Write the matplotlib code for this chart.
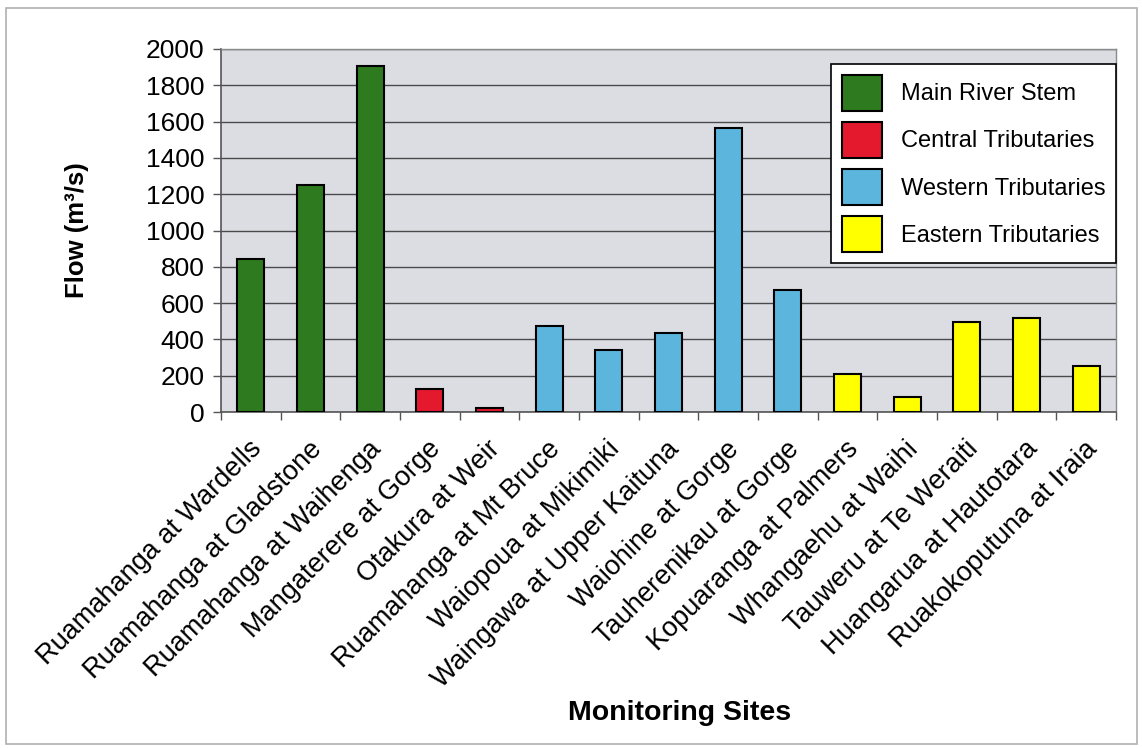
import matplotlib
matplotlib.use("Agg")
import matplotlib.pyplot as plt
import matplotlib.transforms as mtransforms
from matplotlib.patches import Patch, Rectangle
import numpy as np

plt.rcParams['font.family'] = ['Liberation Sans', 'DejaVu Sans']

# flow at each monitoring site (m3/s)
sites = ["Ruamahanga at Wardells", "Ruamahanga at Gladstone", "Ruamahanga at Waihenga",
         "Mangaterere at Gorge", "Otakura at Weir", "Ruamahanga at Mt Bruce",
         "Waiopoua at Mikimiki", "Waingawa at Upper Kaituna", "Waiohine at Gorge",
         "Tauherenikau at Gorge", "Kopuaranga at Palmers", "Whangaehu at Waihi",
         "Tauweru at Te Weraiti", "Huangarua at Hautotara", "Ruakokoputuna at Iraia"]
flows = [843, 1252, 1907, 125, 22, 474, 340, 433, 1562, 670, 211, 84, 496, 518, 252]
groups = [0, 0, 0, 1, 1, 2, 2, 2, 2, 2, 3, 3, 3, 3, 3]

group_names = ["Main River Stem", "Central Tributaries", "Western Tributaries", "Eastern Tributaries"]
group_colors = ["#2e7b1f", "#e5192d", "#5bb5dc", "#ffff00"]

fig = plt.figure(figsize=(11.42, 7.48), dpi=100)
fig.patch.set_facecolor("white")
# thin frame round the whole chart
fig.patches.append(Rectangle((6/1142, 4/748), 1131/1142, 736/748, transform=fig.transFigure,
                             fill=False, edgecolor="#b0b0b0", linewidth=1.2))

ax = fig.add_axes([221/1142, 1 - 412/748, 895/1142, 363/748])
ax.set_facecolor("#dcdde3")

x = np.arange(len(sites))
ax.bar(x, flows, width=0.45, color=[group_colors[g] for g in groups],
       edgecolor="black", linewidth=1.5, zorder=3)

ax.set_xlim(-0.5, len(sites) - 0.5)
ax.set_ylim(0, 2000)
ax.set_yticks(np.arange(0, 2001, 200))
ax.yaxis.grid(True, color="#4a4a4a", linewidth=1.0, zorder=1)
ax.set_axisbelow(True)

# category names, slanted, hung just under each bar
ax.set_xticks(x)
ax.set_xticklabels([])
ax.tick_params(axis="x", which="major", length=0)
shift = mtransforms.ScaledTranslation(-2/100, -24/100, fig.dpi_scale_trans)
for xi, name in zip(x, sites):
    ax.text(xi, 0, name, transform=ax.get_xaxis_transform() + shift,
            rotation=45, rotation_mode="anchor", ha="right", va="top", fontsize=19.5)

ax.set_xticks(np.arange(-0.5, len(sites), 1), minor=True)
ax.tick_params(axis="x", which="minor", length=6, width=1, color="#555555", direction="out")
ax.tick_params(axis="y", length=6, width=1, color="#555555", labelsize=19, pad=6)

for side in ["left", "bottom"]:
    ax.spines[side].set_color("#555555")
    ax.spines[side].set_linewidth(1.2)
for side in ["top", "right"]:
    ax.spines[side].set_color("#8a8a8a")
    ax.spines[side].set_linewidth(1.0)

ax.set_ylabel("Flow (m³/s)", fontsize=18.5, fontweight="bold", labelpad=41)
fig.text(680/1142, 1 - 713/748, "Monitoring Sites", fontsize=20.5, fontweight="bold",
         ha="center", va="center")

handles = [Patch(facecolor=c, edgecolor="black", linewidth=1.5) for c in group_colors]
leg = fig.legend(handles, group_names, loc="upper right",
                 bbox_to_anchor=(1116/1142, 1 - 64/748), fontsize=17,
                 frameon=True, fancybox=False, shadow=False, borderaxespad=0,
                 handlelength=1.7, handleheight=2.0, labelspacing=0.45,
                 handletextpad=0.8, borderpad=0.45)
leg.get_frame().set_edgecolor("black")
leg.get_frame().set_linewidth(1.2)
leg.get_frame().set_alpha(1)

fig.savefig("out.png", dpi=100)
